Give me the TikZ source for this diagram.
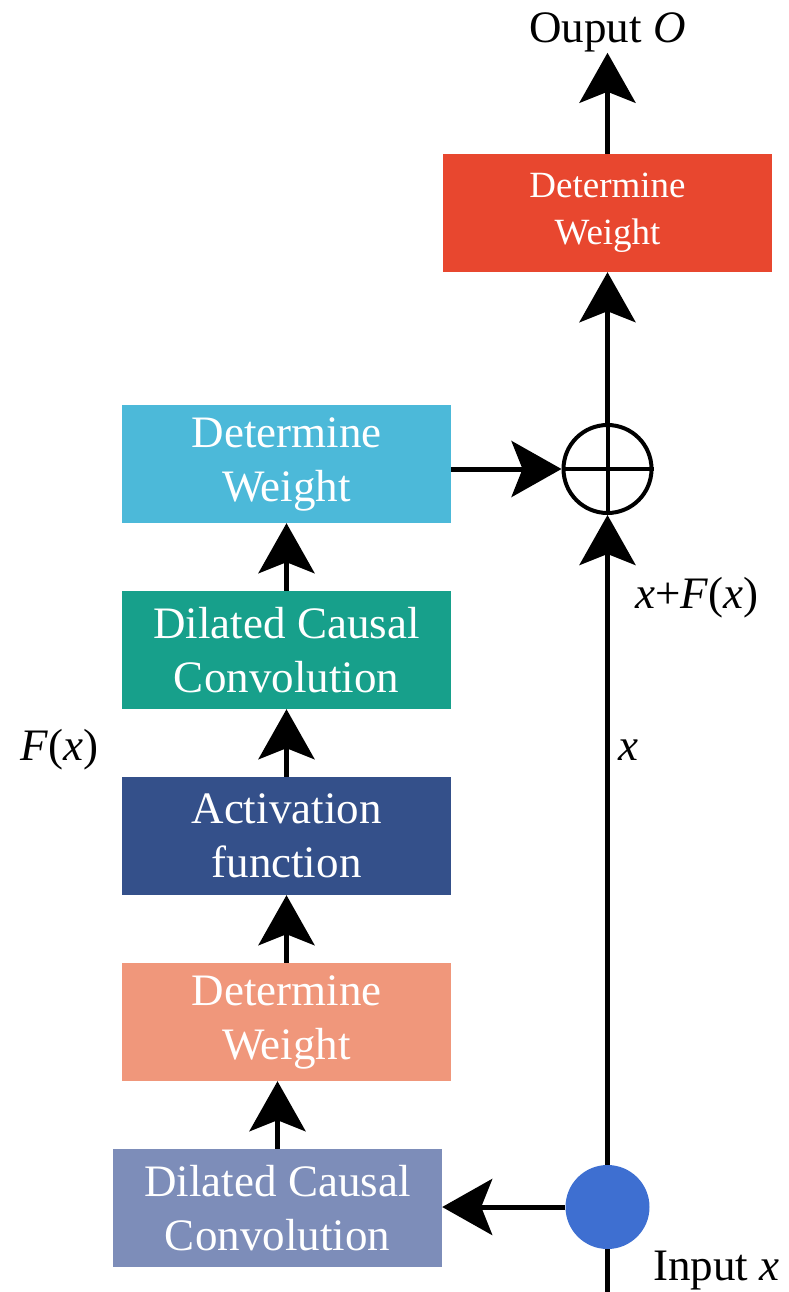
\documentclass[tikz,border=0pt]{standalone}
\usepackage{fontspec}
\setmainfont{Liberation Serif}
\usetikzlibrary{arrows.meta, positioning}

\definecolor{wred}{HTML}{E8472F}
\definecolor{wcyan}{HTML}{4CB9D9}
\definecolor{wteal}{HTML}{17A08B}
\definecolor{wnavy}{HTML}{34508A}
\definecolor{wsalmon}{HTML}{F0977B}
\definecolor{wlav}{HTML}{7D8DB9}
\definecolor{wdot}{HTML}{3E6FD1}

\begin{document}
\begin{tikzpicture}[x=1pt,y=-1pt,>={Stealth[length=50pt,width=56pt,inset=11pt]},
  block/.style={minimum width=329pt,minimum height=118pt,inner sep=0pt,align=center,text=white,font=\fontsize{45}{54}\selectfont},
  lbl/.style={inner sep=0pt,font=\fontsize{45}{54}\selectfont},
  flow/.style={->,line width=5pt}]
\useasboundingbox (0,0) rectangle (788,1292);

% residual branch
\node[block,fill=wlav] (conv1) at (277.5,1208) {Dilated Causal\\Convolution};
\node[block,fill=wsalmon] (weight1) at (286.5,1022) {Determine\\Weight};
\node[block,fill=wnavy] (act) at (286.5,836) {Activation\\function};
\node[block,fill=wteal] (conv2) at (286.5,650) {Dilated Causal\\Convolution};
\node[block,fill=wcyan] (weight2) at (286.5,464) {Determine\\Weight};

% skip path
\coordinate (in) at (607.5,1292);
\node[circle,fill=wdot,minimum size=84pt,inner sep=0pt] (src) at (607.5,1207) {};
\node[circle,draw,line width=4pt,minimum size=88pt,inner sep=0pt] (sum) at (607.5,469) {};
\node[block,fill=wred,font=\fontsize{37}{47}\selectfont] (weight3) at (607.5,213) {Determine\\Weight};

% labels
\node[lbl,anchor=base] (out) at (607.5,43) {Ouput \textit{O}};
\node[lbl,anchor=base west] (fx) at (20,760) {\textit{F}(\textit{x})};
\node[lbl,anchor=base west] (sumlbl) at (635,608) {\textit{x}+\textit{F}(\textit{x})};
\node[lbl,anchor=base west] (xlbl) at (618,760) {\textit{x}};
\node[lbl,anchor=base west] (inlbl) at (653,1280) {Input \textit{x}};

\draw[line width=4pt] (sum.north) -- (sum.south) (sum.west) -- (sum.east);

\draw[flow] (src.west) -- (conv1.east |- src);
\draw[flow] (conv1.north) -- (conv1.north |- weight1.south);
\draw[flow] (weight1) -- (act);
\draw[flow] (act) -- (conv2);
\draw[flow] (conv2) -- (weight2);
\draw[flow] (weight2.east |- sum) -- (sum.west);

\draw[line width=5pt] (in) -- (src.south);
\draw[flow] (src) -- (sum);
\draw[flow] (sum) -- (weight3);
\draw[flow] (weight3) -- (out.south);
\end{tikzpicture}
\end{document}
